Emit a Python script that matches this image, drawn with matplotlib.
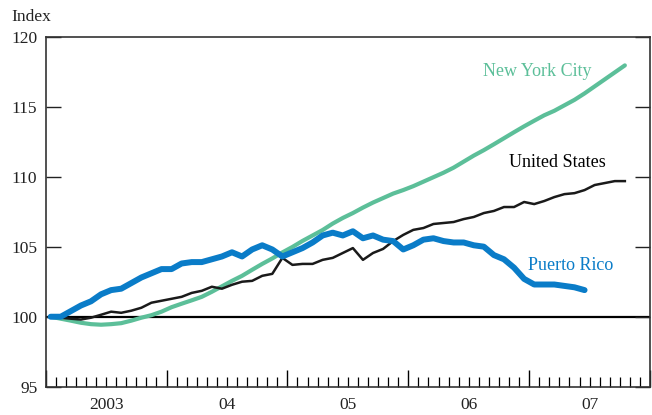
import numpy as np
import matplotlib
matplotlib.use("Agg")
import matplotlib.pyplot as plt

plt.rcParams['font.family'] = ['Liberation Serif', 'DejaVu Serif']

# monthly index values, Jan 2003 = 100
nyc = [100.0, 99.86, 99.72, 99.57, 99.47, 99.43, 99.47, 99.54, 99.72, 99.93,
       100.11, 100.36, 100.68, 100.93, 101.17, 101.42, 101.78, 102.17, 102.56, 102.92,
       103.35, 103.77, 104.16, 104.59, 104.98, 105.41, 105.8, 106.19, 106.65, 107.05,
       107.4, 107.79, 108.15, 108.47, 108.79, 109.04, 109.32, 109.64, 109.96, 110.28,
       110.64, 111.07, 111.5, 111.89, 112.31, 112.74, 113.17, 113.59, 113.99, 114.38,
       114.7, 115.09, 115.48, 115.94, 116.44, 116.94, 117.44, 117.94]
us = [100.0, 99.93, 99.86, 99.8, 99.93, 100.14, 100.36, 100.28, 100.43, 100.64,
      101.0, 101.14, 101.28, 101.42, 101.7, 101.85, 102.14, 102.0, 102.28, 102.5,
      102.56, 102.92, 103.06, 104.2, 103.7, 103.77, 103.77, 104.06, 104.2, 104.55,
      104.9, 104.06, 104.55, 104.84, 105.4, 105.84, 106.2, 106.33, 106.62, 106.69,
      106.76, 106.97, 107.12, 107.4, 107.55, 107.83, 107.83, 108.19, 108.04, 108.26,
      108.54, 108.75, 108.82, 109.04, 109.4, 109.54, 109.68, 109.68]
pr = [100.0, 100.0, 100.4, 100.8, 101.1, 101.6, 101.9, 102.0, 102.4, 102.8,
      103.1, 103.4, 103.4, 103.8, 103.9, 103.9, 104.1, 104.3, 104.6, 104.3,
      104.8, 105.1, 104.8, 104.3, 104.6, 104.9, 105.3, 105.8, 106.0, 105.8,
      106.1, 105.6, 105.8, 105.5, 105.4, 104.8, 105.1, 105.5, 105.6, 105.4,
      105.3, 105.3, 105.1, 105.0, 104.4, 104.1, 103.5, 102.7, 102.3, 102.3,
      102.3, 102.2, 102.1, 101.9]

year_labels = ['2003', '04', '05', '06', '07']

green = '#5cbf99'
blue = '#0a7cc8'

def months_to_x(n):
    return 2003 + (np.arange(n) + 0.5) / 12

fig = plt.figure(figsize=(6.52, 4.15), dpi=100)
ax = fig.add_axes([0.070, 0.068, 0.927, 0.844])

ax.axhline(100, color='black', lw=1.6, zorder=1)
ax.plot(months_to_x(len(nyc)), nyc, color=green, lw=3.0, solid_capstyle='round', zorder=2)
ax.plot(months_to_x(len(us)), us, color='#1a1a1a', lw=1.8, zorder=3)
ax.plot(months_to_x(len(pr)), pr, color=blue, lw=4.3, solid_capstyle='round', zorder=4)

ax.set_xlim(2003, 2008)
ax.set_ylim(95, 120)

ax.set_yticks([95, 100, 105, 110, 115, 120])
ax.tick_params(axis='y', direction='in', length=11, width=1.0, labelsize=12.5,
               right=True, pad=6, colors='#222222')
ax.set_xticks(np.arange(2003, 2009))
ax.set_xticks(2003 + np.arange(0, 61) / 12, minor=True)
ax.tick_params(axis='x', which='major', direction='in', length=12, width=1.0,
               labelbottom=False)
ax.tick_params(axis='x', which='minor', direction='in', length=7, width=0.9)

for i, lab in enumerate(year_labels):
    ax.text(2003.5 + i, -0.03, lab, transform=ax.get_xaxis_transform(),
            ha='center', va='top', fontsize=12.5, color='#222222')

for s in ax.spines.values():
    s.set_linewidth(1.2)
    s.set_color('#333333')

ax.text(2007.07, 117.48, 'New York City', color=green, fontsize=13, ha='center', va='center')
ax.text(2007.23, 110.98, 'United States', color='black', fontsize=13, ha='center', va='center')
ax.text(2007.34, 103.69, 'Puerto Rico', color=blue, fontsize=13, ha='center', va='center')

fig.text(0.018, 0.958, 'Index', fontsize=12.5, ha='left', va='center', color='#222222')

fig.savefig('out.png', dpi=100)
